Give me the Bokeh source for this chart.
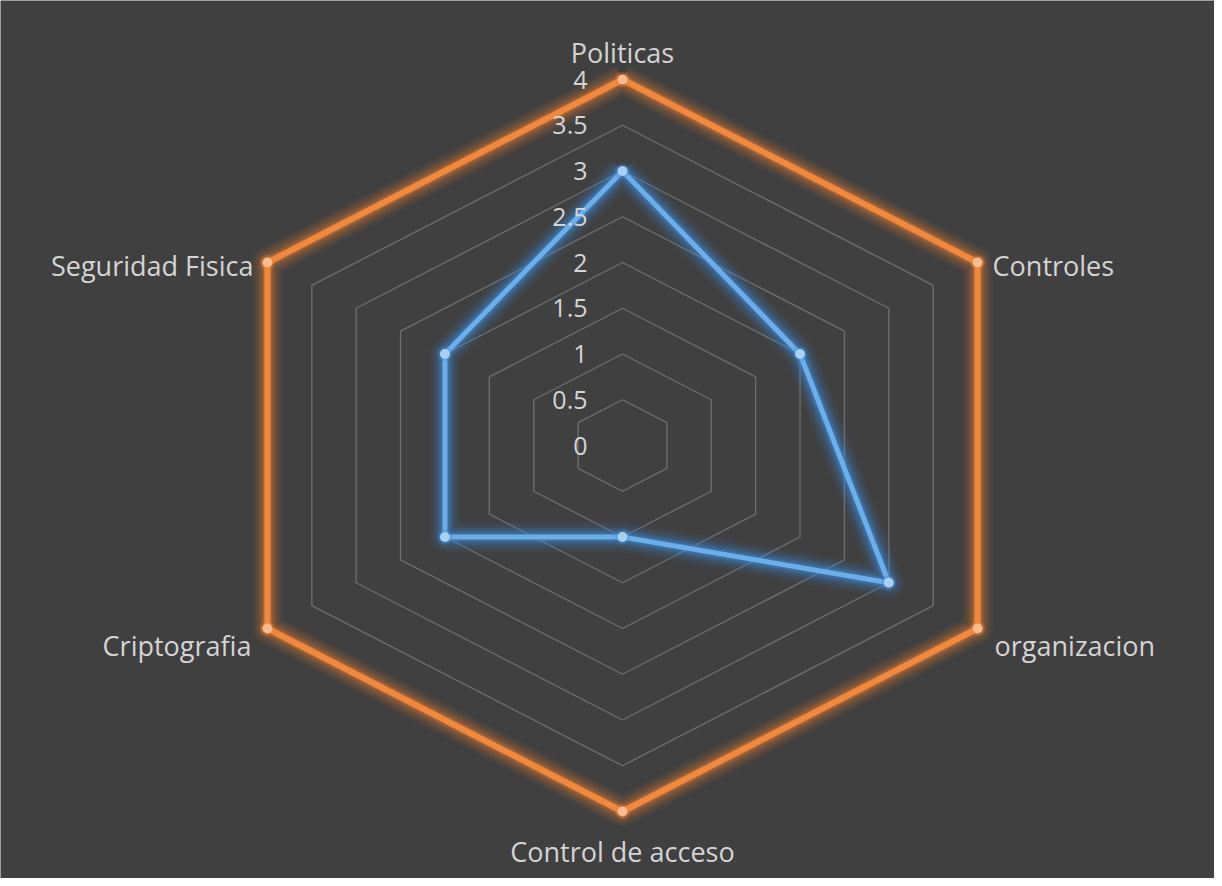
import math
from bokeh.plotting import figure
from bokeh.models import Range1d
from bokeh.embed import file_html
from bokeh.resources import INLINE
from bokeh.core.properties import value

# ---- data ----
categories = ["Politicas", "Controles", "organizacion", "Control de acceso", "Criptografia", "Seguridad Fisica"]
serie_objetivo = [4, 4, 4, 4, 4, 4]
serie_actual = [3, 2, 3, 1, 2, 2]
tick_values = [0, 0.5, 1, 1.5, 2, 2.5, 3, 3.5, 4]
tick_labels = ["0", "0.5", "1", "1.5", "2", "2.5", "3", "3.5", "4"]

# ---- layout ----
W, H = 1214, 878
CX, CY = 622, 445          # centre in pixels (from top-left)
SX, SY = 102.5, 91.5       # pixels per unit
BG = "#404040"
FONT = "Open Sans"

p = figure(width=W, height=H, output_backend="svg", toolbar_location=None,
           x_range=Range1d(-CX / SX, (W - CX) / SX),
           y_range=Range1d(-(H - CY) / SY, CY / SY),
           min_border=0, background_fill_color=BG, border_fill_color=BG,
           outline_line_color=None)
p.axis.visible = False
p.grid.visible = False

n = len(categories)
angles = [math.radians(90 - 360.0 / n * i) for i in range(n)]


def ring(vals, close=True):
    xs = [v * math.cos(a) for v, a in zip(vals, angles)]
    ys = [v * math.sin(a) for v, a in zip(vals, angles)]
    if close:
        xs.append(xs[0]); ys.append(ys[0])
    return xs, ys


# grid hexagons
for t in tick_values[1:]:
    gx, gy = ring([t] * n)
    p.line(gx, gy, line_color="#6c6c6c", line_width=1.4)


def glow_series(vals, glow_col, line_col, marker_col, width):
    xs, ys = ring(vals)
    for w, a in [(30, 0.07), (24, 0.1), (18, 0.14), (13, 0.2), (9, 0.3)]:
        p.line(xs, ys, line_color=glow_col, line_width=w, line_alpha=a, line_join="round")
    p.line(xs, ys, line_color=line_col, line_width=width, line_join="round")
    mx, my = ring(vals, close=False)
    p.scatter(mx, my, size=15, fill_color=glow_col, fill_alpha=0.35, line_color=None)
    p.scatter(mx, my, size=10, fill_color=marker_col, line_color=None)


glow_series(serie_objetivo, "#ed7d31", "#f0893c", "#f7bb8e", 6)
glow_series(serie_actual, "#3d8fe0", "#6aaeea", "#a9d0f3", 5)

# tick labels along the top axis
p.text([0] * len(tick_values), tick_values, text=tick_labels,
       text_font=value(FONT), text_font_size="25px", text_color="#d4d4d4",
       text_align="right", text_baseline="middle", x_offset=-35, y_offset=0)

# category labels
label_style = [  # (x_offset, y_offset, align)
    (0, -27, "center"),
    (15, 3, "left"),
    (17, 17, "left"),
    (0, 40, "center"),
    (-16, 17, "right"),
    (-14, 3, "right"),
]
lx, ly = ring(serie_objetivo, close=False)
for i, name in enumerate(categories):
    xo, yo, al = label_style[i]
    p.text([lx[i]], [ly[i]], text=[name], text_font=value(FONT), text_font_size="27px",
           text_color="#d4d4d4", text_align=al, text_baseline="alphabetic",
           x_offset=xo, y_offset=yo)

open("out.html", "w").write(file_html(p, INLINE))
